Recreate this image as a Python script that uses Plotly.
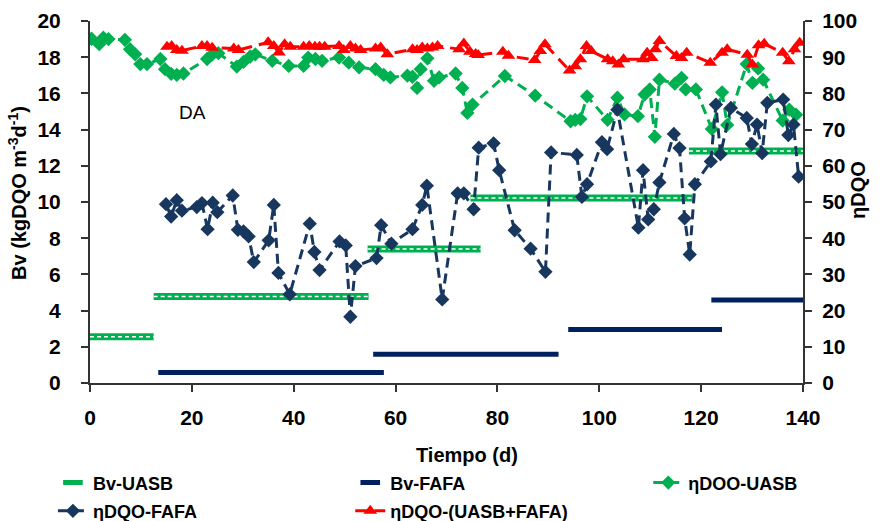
import plotly.graph_objects as go

# ---------------- data ----------------
# Volumetric load steps (kgDQO m-3 d-1): start day, end day, value
bv_uasb_start = [0.0, 12.5, 54.5, 74.7, 117.6]
bv_uasb_end = [12.5, 54.7, 76.7, 118.3, 140.0]
bv_uasb_val = [2.55, 4.78, 7.40, 10.22, 12.82]

bv_fafa_start = [13.4, 55.6, 93.9, 122.0]
bv_fafa_end = [57.7, 92.0, 124.1, 140.0]
bv_fafa_val = [0.58, 1.59, 2.95, 4.58]

# eta DOO-UASB (%)
uasb_t = [0.30, 1.81, 2.62, 3.63, 6.85, 7.86, 8.87, 9.88, 11.19, 13.81, 14.72, 15.93, 17.04, 18.35,
          22.99, 23.89, 25.20, 28.83, 30.14, 31.46, 32.46, 35.79, 39.02, 41.94, 42.85, 44.26, 45.57,
          48.90, 50.81, 52.83, 56.06, 57.67, 58.98, 62.31, 63.32, 64.22, 64.93, 66.24, 67.55, 68.56,
          71.79, 73.10, 74.10, 75.11, 81.46, 87.41, 94.37, 95.28, 96.29, 97.60, 101.63, 103.55, 104.96,
          107.58, 108.89, 109.90, 110.91, 111.81, 114.84, 116.15, 116.96, 118.97, 122.10, 124.11,
          125.12, 128.95, 130.06, 131.17, 132.18, 136.01, 137.32, 138.63]
uasb_eff = [95.1, 93.6, 95.4, 95.0, 94.8, 92.2, 90.8, 88.1, 88.1, 89.5, 86.7, 85.4, 85.1, 85.5,
            89.5, 90.6, 91.1, 87.4, 88.7, 90.2, 90.8, 89.0, 87.6, 87.6, 89.9, 89.5, 89.0,
            89.9, 88.5, 87.2, 86.7, 85.1, 84.4, 84.9, 84.6, 81.5, 86.7, 89.7, 83.5, 84.4,
            85.5, 81.5, 74.6, 76.9, 84.8, 79.4, 72.3, 72.7, 72.9, 79.2, 72.7, 78.8, 74.2,
            73.7, 79.7, 81.1, 68.0, 83.8, 82.7, 84.3, 81.1, 81.1, 70.2, 80.3,
            71.3, 88.1, 82.9, 86.9, 83.8, 72.5, 75.5, 74.1]

# eta DQO-FAFA (%)
fafa_t = [14.92, 15.93, 17.04, 18.05, 20.97, 21.98, 23.09, 24.09, 25.00, 28.03, 29.04, 30.14, 31.15,
          32.16, 35.08, 36.09, 37.00, 39.22, 43.15, 44.06, 45.07, 49.00, 50.21, 51.12, 52.12, 56.26,
          57.17, 59.18, 63.32, 65.23, 66.14, 69.16, 72.19, 73.40, 75.32, 76.32, 79.25, 80.35, 83.38,
          86.51, 89.43, 90.54, 95.58, 96.59, 97.60, 100.52, 101.53, 103.55, 107.68, 108.59, 109.60,
          110.70, 111.81, 114.64, 115.75, 116.76, 117.76, 118.77, 121.90, 122.90, 123.81, 125.83,
          128.95, 129.96, 130.97, 131.98, 132.99, 136.11, 137.12, 138.13, 139.14]
fafa_eff = [49.4, 46.0, 50.5, 47.6, 48.6, 49.7, 42.5, 49.8, 47.2, 51.8, 42.3, 41.9, 40.5,
            33.4, 39.4, 49.2, 30.4, 24.5, 44.0, 36.2, 31.2, 39.1, 38.0, 18.3, 32.3, 34.5,
            43.6, 38.5, 42.5, 49.2, 54.5, 23.1, 52.4, 52.4, 48.0, 65.0, 66.2, 58.8, 42.2,
            37.1, 30.7, 63.7, 63.0, 51.4, 54.9, 66.5, 64.6, 75.5, 42.9, 58.8, 45.2,
            48.0, 55.4, 68.8, 64.9, 45.5, 35.5, 54.9, 61.2, 76.9, 63.2, 76.0,
            73.2, 66.0, 71.4, 63.5, 77.4, 78.3, 68.5, 71.4, 57.0]

# eta DQO-(UASB+FAFA) (%)
tot_t = [15.12, 16.03, 17.04, 18.05, 21.98, 22.99, 23.99, 28.23, 29.14, 34.98, 36.09, 37.10, 38.21,
         39.32, 41.94, 43.05, 44.16, 45.07, 46.08, 48.90, 49.81, 51.12, 52.12, 53.13, 56.06, 57.07,
         58.38, 63.32, 64.22, 65.23, 66.24, 67.25, 68.26, 72.49, 73.40, 74.61, 75.72, 76.22, 81.06,
         82.17, 87.31, 88.42, 89.33, 94.17, 95.28, 96.29, 97.50, 98.41, 101.63, 102.64, 103.75,
         104.76, 108.59, 109.39, 110.30, 111.01, 111.81, 115.14, 116.15, 117.16, 121.79, 124.11,
         125.12, 129.06, 130.06, 131.27, 132.38, 136.01, 137.22, 138.33, 139.34]
tot_eff = [92.9, 93.1, 92.0, 91.8, 93.1, 93.1, 92.6, 92.4, 92.0, 94.1, 93.1, 91.3, 93.6,
           92.9, 92.9, 93.1, 92.9, 92.9, 92.9, 93.1, 92.0, 93.1, 92.4, 92.0, 92.4, 92.7,
           90.8, 92.2, 92.0, 92.7, 92.4, 92.7, 93.1, 92.2, 93.8, 91.5, 90.9, 90.6, 91.5,
           90.4, 89.2, 91.7, 93.6, 86.3, 87.5, 89.4, 93.1, 91.7, 89.4, 88.9, 88.0,
           89.4, 89.4, 91.2, 89.8, 92.2, 94.5, 90.3, 89.8, 91.2, 88.5, 91.2,
           92.2, 90.7, 88.0, 93.3, 93.7, 91.2, 88.9, 92.2, 94.0]

x_ticks = [0, 20, 40, 60, 80, 100, 120, 140]

GREEN = "#00B050"
NAVY = "#002060"
DBLUE = "#17375E"
RED = "#FF0000"
FONT = "Liberation Sans"


def steps(starts, ends, vals):
    xs, ys = [], []
    for s, e, v in zip(starts, ends, vals):
        xs += [s, e, None]
        ys += [v, v, None]
    return xs, ys


ux, uy = steps(bv_uasb_start, bv_uasb_end, bv_uasb_val)
fx, fy = steps(bv_fafa_start, bv_fafa_end, bv_fafa_val)

fig = go.Figure()

# Bv-UASB: thick green band with white dashed centre
fig.add_trace(go.Scatter(x=ux, y=uy, mode="lines", line=dict(color=GREEN, width=7),
                         showlegend=False, hoverinfo="skip"))
fig.add_trace(go.Scatter(x=ux, y=uy, mode="lines", line=dict(color="white", width=1.5, dash="4px,3px"),
                         showlegend=False, hoverinfo="skip"))
# Bv-FAFA
fig.add_trace(go.Scatter(x=fx, y=fy, mode="lines", line=dict(color=NAVY, width=5),
                         showlegend=False, hoverinfo="skip"))

# legend-only entries for the load steps
fig.add_trace(go.Scatter(x=[None], y=[None], mode="markers", name="Bv-UASB",
                         marker=dict(symbol="line-ew", size=14, line=dict(color=GREEN, width=6)),
                         legend="legend"))
fig.add_trace(go.Scatter(x=[None], y=[None], mode="markers", name="Bv-FAFA",
                         marker=dict(symbol="line-ew", size=14, line=dict(color=NAVY, width=6)),
                         legend="legend2"))

# efficiencies on the right axis
fig.add_trace(go.Scatter(x=uasb_t, y=uasb_eff, mode="lines+markers", name="ηDOO-UASB",
                         yaxis="y2", line=dict(color=GREEN, width=3, dash="10px,6px"),
                         marker=dict(symbol="diamond", size=11, color=GREEN),
                         legend="legend3"))
fig.add_trace(go.Scatter(x=fafa_t, y=fafa_eff, mode="lines+markers", name="ηDQO-FAFA",
                         yaxis="y2", line=dict(color=DBLUE, width=3, dash="10px,6px"),
                         marker=dict(symbol="diamond", size=11, color=DBLUE),
                         legend="legend4"))
fig.add_trace(go.Scatter(x=tot_t, y=tot_eff, mode="lines+markers", name="ηDQO-(UASB+FAFA)",
                         yaxis="y2", line=dict(color=RED, width=3, dash="12px,7px"),
                         marker=dict(symbol="triangle-up", size=12, color=RED),
                         legend="legend5"))

lfont = dict(family=FONT, size=18, color="black", weight="bold")
tfont = dict(family=FONT, size=20, color="black", weight="bold")


def leg(x, y):
    return dict(x=x, y=y, xanchor="left", yanchor="middle", orientation="h",
                font=lfont, bgcolor="rgba(0,0,0,0)", itemwidth=30)


axis_common = dict(showline=True, linecolor="#333333", linewidth=2, ticks="outside",
                   ticklen=7, tickwidth=2, tickcolor="#333333", showgrid=False,
                   zeroline=False, tickfont=dict(family=FONT, size=21, color="black", weight="bold"))

fig.update_layout(
    width=883, height=521,
    margin=dict(l=90, r=80, t=21, b=138, autoexpand=False),
    paper_bgcolor="white", plot_bgcolor="white",
    font=dict(family=FONT, size=18, color="black"),
    xaxis=dict(range=[0, 140], tickvals=x_ticks, ticklabelstandoff=8, **axis_common),
    yaxis=dict(range=[0, 20], dtick=2, ticklabelstandoff=16, **axis_common),
    yaxis2=dict(range=[0, 100], dtick=10, overlaying="y", side="right", ticklabelstandoff=6,
                **axis_common),
    legend=leg(-0.052, -0.276),
    legend2=leg(0.365, -0.276),
    legend3=leg(0.783, -0.276),
    legend4=leg(-0.052, -0.354),
    legend5=leg(0.365, -0.354),
    annotations=[
        dict(x=20.1, y=14.97, xref="x", yref="y", text="DA", showarrow=False,
             font=dict(family=FONT, size=19, color="black")),
        dict(x=0.529, y=-0.199, xref="paper", yref="paper", text="Tiempo (d)",
             showarrow=False, font=tfont, xanchor="center", yanchor="middle"),
        dict(x=-0.101, y=0.525, xref="paper", yref="paper",
             text="Bv (kgDQO m<sup>-3</sup>d<sup>-1</sup>)", textangle=-90,
             showarrow=False, font=tfont, xanchor="center", yanchor="middle"),
        dict(x=1.077, y=0.533, xref="paper", yref="paper", text="ηDQO", textangle=-90,
             showarrow=False, font=tfont, xanchor="center", yanchor="middle"),
    ],
)

fig.write_html("out.html", config={"displayModeBar": False},
               post_script="document.body.style.margin='0px';")
